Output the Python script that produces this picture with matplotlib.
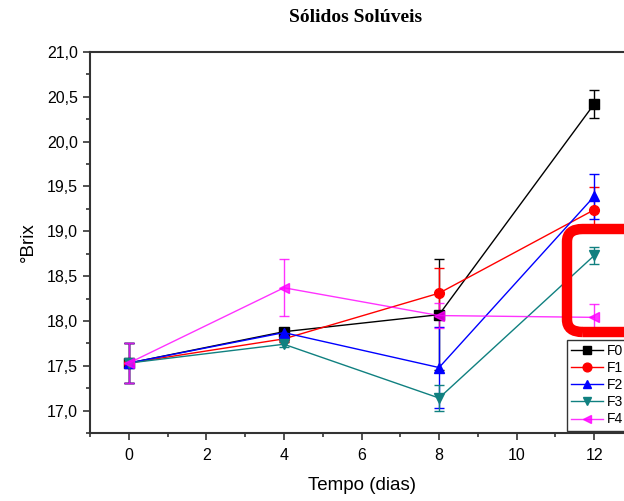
import numpy as np
import matplotlib
matplotlib.use("Agg")
import matplotlib.pyplot as plt
from matplotlib.ticker import MultipleLocator, FuncFormatter
from matplotlib.patches import FancyBboxPatch

plt.rcParams["font.family"] = ["Liberation Sans", "DejaVu Sans"]

# tempo (dias)
dias = [0, 4, 8, 12]
series = ["F0", "F1", "F2", "F3", "F4"]
brix = {
    "F0": [17.53, 17.88, 18.07, 20.42],
    "F1": [17.53, 17.80, 18.31, 19.24],
    "F2": [17.53, 17.87, 17.48, 19.39],
    "F3": [17.53, 17.74, 17.14, 18.73],
    "F4": [17.53, 18.37, 18.06, 18.04],
}
erro = {
    "F0": [0.22, 0.03, 0.62, 0.16],
    "F1": [0.22, 0.03, 0.28, 0.25],
    "F2": [0.22, 0.04, 0.45, 0.25],
    "F3": [0.22, 0.03, 0.14, 0.10],
    "F4": [0.22, 0.32, 0.14, 0.15],
}
cores = {"F0": "black", "F1": "red", "F2": "blue", "F3": "#108080", "F4": "magenta"}
marcadores = {"F0": "s", "F1": "o", "F2": "^", "F3": "v", "F4": "<"}

fig = plt.figure(figsize=(6.24, 5.01), dpi=100)
ax = fig.add_axes([90 / 624, 1 - 433 / 501, (633 - 90) / 624, (433 - 52) / 501])

linhas = []
for s in series:
    c = ax.errorbar(dias, brix[s], yerr=erro[s], color=cores[s], marker=marcadores[s],
                    markersize=7, linewidth=1, elinewidth=1, capsize=3.5, capthick=1,
                    label=s, alpha=0.8 if s == "F4" else 1)
    linhas.append(c[0])

ax.set_xlim(-1, 13)
ax.set_ylim(16.75, 21.0)
ax.xaxis.set_major_locator(MultipleLocator(2))
ax.xaxis.set_minor_locator(MultipleLocator(1))
ax.yaxis.set_major_locator(MultipleLocator(0.5))
ax.yaxis.set_minor_locator(MultipleLocator(0.25))
ax.yaxis.set_major_formatter(FuncFormatter(lambda v, p: f"{v:.1f}".replace(".", ",")))
ax.tick_params(which="both", direction="out", top=False, right=False,
               color="#333333", width=1.2)
ax.tick_params(which="major", length=5, labelsize=11.5)
ax.tick_params(axis="x", which="major", pad=6)
ax.tick_params(which="minor", length=3)
for sp in ax.spines.values():
    sp.set_linewidth(1.5)
    sp.set_color("#333333")

ax.set_xlabel("Tempo (dias)", fontsize=13.5, labelpad=10)
ax.set_ylabel("°Brix", fontsize=13.5, labelpad=7)

fig.text(356 / 624, 1 - 18 / 501, "Sólidos Solúveis", ha="center", va="center",
         fontsize=14, fontweight="bold", family=["Liberation Serif", "DejaVu Serif"])

leg = ax.legend(linhas, series, loc="upper left",
                bbox_to_anchor=(567 / 624, 1 - 340 / 501),
                bbox_transform=fig.transFigure, borderaxespad=0, fontsize=10,
                fancybox=False, framealpha=1, edgecolor="#333333",
                handlelength=2.3, handletextpad=0.3, labelspacing=0.22,
                borderpad=0.3, markerscale=0.9)
leg.get_frame().set_linewidth(1)

# red highlight box
caixa = FancyBboxPatch((567 / 624, 1 - 332 / 501), 120 / 624, (332 - 229) / 501,
                       boxstyle="round,pad=0,rounding_size=0.025",
                       transform=fig.transFigure, fill=False,
                       edgecolor="red", linewidth=7.5, zorder=10)
fig.patches.append(caixa)

fig.savefig("out.png", dpi=100)
